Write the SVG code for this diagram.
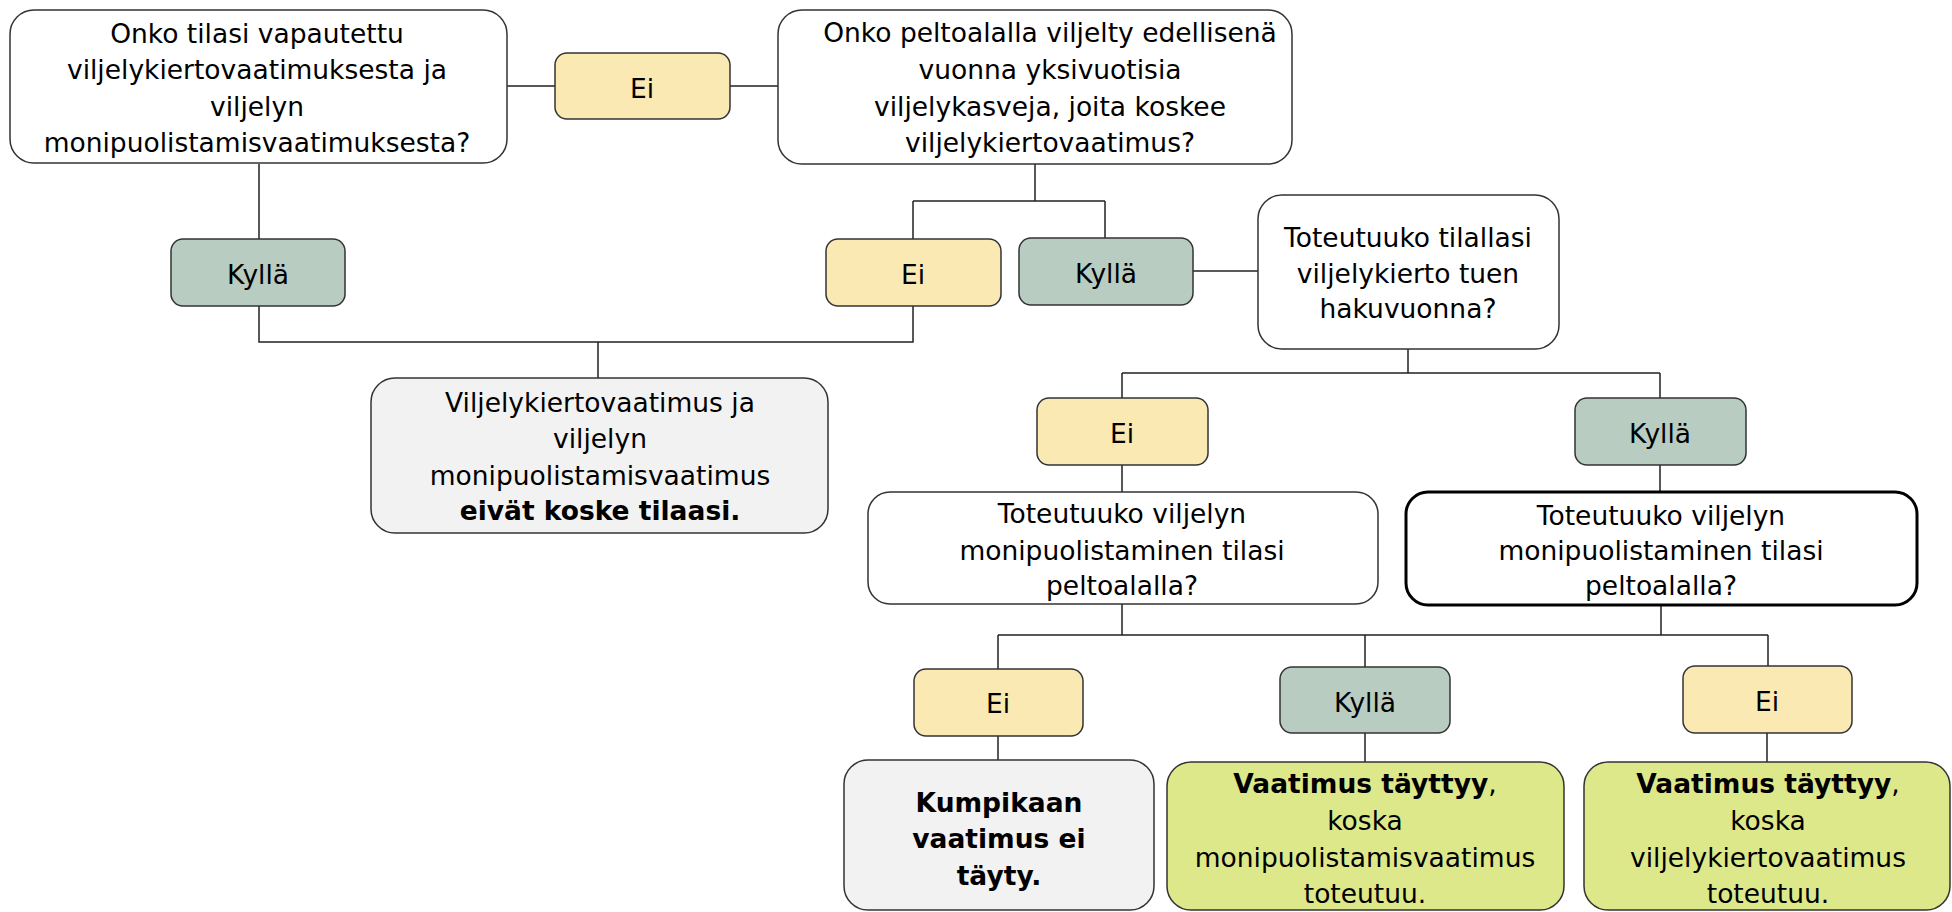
<svg xmlns="http://www.w3.org/2000/svg" width="1952" height="912" viewBox="0 0 1952 912">
<style>
text{font-family:"DejaVu Sans","Liberation Sans",sans-serif;font-size:26.5px;fill:#000;text-anchor:middle}
.b{font-weight:bold}
.q{fill:#fff;stroke:#333;stroke-width:1.5}
.q5{fill:#fff;stroke:#000;stroke-width:3}
.ei{fill:#FBE9B4;stroke:#333;stroke-width:1.5}
.ky{fill:#B8CCC1;stroke:#333;stroke-width:1.5}
.gr{fill:#F2F2F2;stroke:#333;stroke-width:1.5}
.gn{fill:#DDE88A;stroke:#333;stroke-width:1.5}
.c{fill:none;stroke:#222;stroke-width:1.5}
</style>
<g id="connectors">
<path class="c" d="M507 86H555M730 86H778"/>
<path class="c" d="M259 164V239M259 306V342H913V306M598 342V378"/>
<path class="c" d="M1035 164V201M913 201H1105M913 201V239M1105 201V238"/>
<path class="c" d="M1193 271H1258"/>
<path class="c" d="M1408 349V373M1122 373H1660M1122 373V398M1660 373V398"/>
<path class="c" d="M1122 465V492M1660 465V492"/>
<path class="c" d="M1122 604V635M1661 605V635M998 635H1768M998 635V669M1365 635V667M1768 635V666"/>
<path class="c" d="M998 736V760M1365 733V762M1767 733V762"/>
</g>
<g id="q1"><rect class="q" x="10" y="10" width="497" height="153" rx="24"/>
<text x="257" y="43">Onko tilasi vapautettu</text>
<text x="257" y="79">viljelykiertovaatimuksesta ja</text>
<text x="257" y="116">viljelyn</text>
<text x="257" y="152">monipuolistamisvaatimuksesta?</text></g>
<g id="ei1"><rect class="ei" x="555" y="53" width="175" height="66" rx="12"/><text x="642" y="98">Ei</text></g>
<g id="q2"><rect class="q" x="778" y="10" width="514" height="154" rx="24"/>
<text x="1050" y="42">Onko peltoalalla viljelty edellisenä</text>
<text x="1050" y="79">vuonna yksivuotisia</text>
<text x="1050" y="116">viljelykasveja, joita koskee</text>
<text x="1050" y="152">viljelykiertovaatimus?</text></g>
<g id="kylla1"><rect class="ky" x="171" y="239" width="174" height="67" rx="12"/><text x="258" y="284">Kyllä</text></g>
<g id="ei2"><rect class="ei" x="826" y="239" width="175" height="67" rx="12"/><text x="913" y="284">Ei</text></g>
<g id="kylla2"><rect class="ky" x="1019" y="238" width="174" height="67" rx="12"/><text x="1106" y="283">Kyllä</text></g>
<g id="q3"><rect class="q" x="1258" y="195" width="301" height="154" rx="24"/>
<text x="1408" y="247">Toteutuuko tilallasi</text>
<text x="1408" y="283">viljelykierto tuen</text>
<text x="1408" y="318">hakuvuonna?</text></g>
<g id="r1"><rect class="gr" x="371" y="378" width="457" height="155" rx="24"/>
<text x="600" y="412">Viljelykiertovaatimus ja</text>
<text x="600" y="448">viljelyn</text>
<text x="600" y="485">monipuolistamisvaatimus</text>
<text x="600" y="520" class="b">eivät koske tilaasi.</text></g>
<g id="ei3"><rect class="ei" x="1037" y="398" width="171" height="67" rx="12"/><text x="1122" y="443">Ei</text></g>
<g id="kylla3"><rect class="ky" x="1575" y="398" width="171" height="67" rx="12"/><text x="1660" y="443">Kyllä</text></g>
<g id="q4"><rect class="q" x="868" y="492" width="510" height="112" rx="22"/>
<text x="1122" y="523">Toteutuuko viljelyn</text>
<text x="1122" y="560">monipuolistaminen tilasi</text>
<text x="1122" y="595">peltoalalla?</text></g>
<g id="q5"><rect class="q5" x="1406" y="492" width="511" height="113" rx="22"/>
<text x="1661" y="525">Toteutuuko viljelyn</text>
<text x="1661" y="560">monipuolistaminen tilasi</text>
<text x="1661" y="595">peltoalalla?</text></g>
<g id="ei4"><rect class="ei" x="914" y="669" width="169" height="67" rx="12"/><text x="998" y="713">Ei</text></g>
<g id="kylla4"><rect class="ky" x="1280" y="667" width="170" height="66" rx="12"/><text x="1365" y="712">Kyllä</text></g>
<g id="ei5"><rect class="ei" x="1683" y="666" width="169" height="67" rx="12"/><text x="1767" y="711">Ei</text></g>
<g id="r2"><rect class="gr" x="844" y="760" width="310" height="150" rx="24"/>
<text x="999" y="812" class="b">Kumpikaan</text>
<text x="999" y="848" class="b">vaatimus ei</text>
<text x="999" y="885" class="b">täyty.</text></g>
<g id="r3"><rect class="gn" x="1167" y="762" width="397" height="148" rx="24"/>
<text x="1365" y="793"><tspan class="b">Vaatimus täyttyy</tspan>,</text>
<text x="1365" y="830">koska</text>
<text x="1365" y="867">monipuolistamisvaatimus</text>
<text x="1365" y="903">toteutuu.</text></g>
<g id="r4"><rect class="gn" x="1584" y="762" width="366" height="148" rx="24"/>
<text x="1768" y="793"><tspan class="b">Vaatimus täyttyy</tspan>,</text>
<text x="1768" y="830">koska</text>
<text x="1768" y="867">viljelykiertovaatimus</text>
<text x="1768" y="903">toteutuu.</text></g>
</svg>
